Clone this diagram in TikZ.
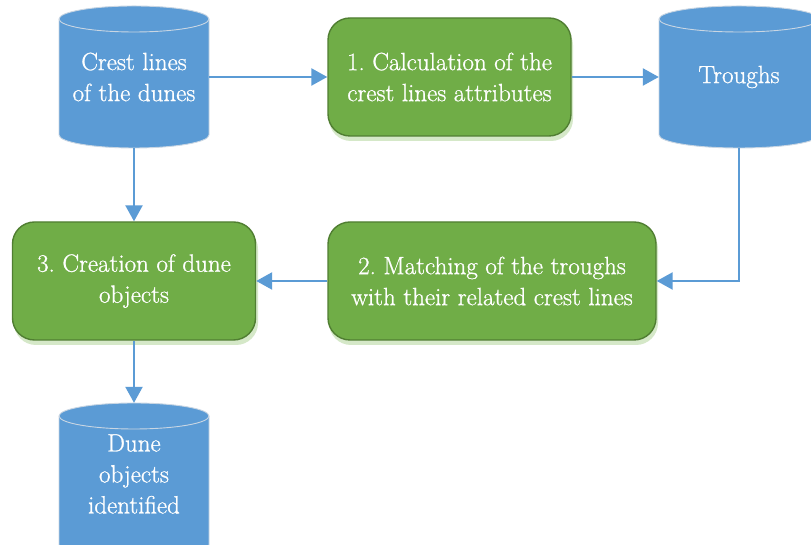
\documentclass[tikz,border=0pt]{standalone}
\usepackage{fontspec}
\newfontfamily\labelfont{Latin Modern Roman}[RawFeature={embolden=0.9}]
\usetikzlibrary{arrows.meta,positioning}
\definecolor{dbblue}{HTML}{5B9BD5}
\definecolor{dbedge}{HTML}{C9D6E3}
\definecolor{stepgreen}{HTML}{70AD47}
\definecolor{stepedge}{HTML}{507E32}
\definecolor{stepshade}{HTML}{D5E8C8}
\definecolor{flowblue}{HTML}{5B9BD5}

\tikzset{
  x=1pt, y=1pt,
  lbl/.style={text=white, font=\labelfont\fontsize{25}{31}\selectfont\frenchspacing, align=center},
  dbnode/.style={lbl, inner sep=0pt, minimum height=142pt},
  stepbox/.style={lbl, rounded corners=22pt, fill=stepgreen, draw=stepedge,
    line width=1.4pt, inner sep=0pt, minimum height=118pt},
  flow/.style={draw=flowblue, line width=2.4pt,
    -{Triangle[length=16pt,width=17pt]}},
}

% cylinder body: #1 centre x, #2 bottom y, #3 top y, #4 half width
\newcommand{\dbcylinder}[4]{%
  \fill[dbblue] (#1-#4,#3-13) -- (#1-#4,#2+13)
    arc[start angle=180,end angle=360,x radius=#4,y radius=13]
    -- (#1+#4,#3-13)
    arc[start angle=0,end angle=180,x radius=#4,y radius=13] -- cycle;
  \draw[dbedge, line width=0.9pt] (#1-#4,#3-13) -- (#1-#4,#2+13)
    arc[start angle=180,end angle=360,x radius=#4,y radius=13]
    -- (#1+#4,#3-13)
    arc[start angle=0,end angle=180,x radius=#4,y radius=13];
  \draw[dbedge, line width=0.9pt] (#1-#4,#3-13)
    arc[start angle=180,end angle=360,x radius=#4,y radius=13];
}

\begin{document}
\begin{tikzpicture}
\useasboundingbox (0,0) rectangle (811,545);
\clip (0,0) rectangle (811,545);
\fill[white] (0,0) rectangle (811,545);

% data stores
\dbcylinder{134}{397}{539}{75}
\node[dbnode, minimum width=150pt] (crest) at (134,468) {Crest lines\\of the dunes};

\dbcylinder{739}{397}{539}{80}
\node[dbnode, minimum width=160pt] (troughs) at (739,468) {Troughs};

\dbcylinder{134}{-13}{142}{75}
\node[dbnode, minimum width=150pt] (dunes) at (134,71) {Dune\\objects\\identified};

% soft shadows under the processing steps
\fill[stepshade, rounded corners=22pt] (329,404) rectangle (573,522);
\fill[stepshade, rounded corners=22pt] (329,200) rectangle (658,318);
\fill[stepshade, rounded corners=22pt] (14,200) rectangle (258,318);

% processing steps
\node[stepbox, minimum width=243pt] (calc) at (449.5,468)
  {1. Calculation of the\\crest lines attributes};
\node[stepbox, minimum width=328pt] (match) at (492,264)
  {2. Matching of the troughs\\with their related crest lines};
\node[stepbox, minimum width=243pt] (create) at (134,264)
  {3. Creation of dune\\objects};

% flow
\draw[flow] (crest.east) -- (calc.west);
\draw[flow] (calc.east) -- (troughs.west);
\draw[flow] (troughs.south) |- (match.east);
\draw[flow] (match.west) -- (create.east);
\draw[flow] (crest.south) -- (create.north);
\draw[flow] (create.south) -- (dunes.north);
\end{tikzpicture}
\end{document}
